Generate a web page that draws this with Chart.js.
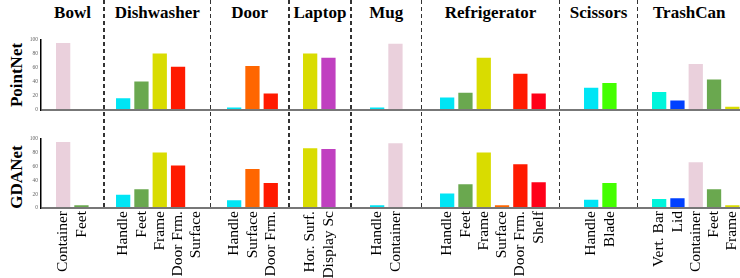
<!DOCTYPE html>
<html>
<head>
<meta charset="utf-8">
<script src="https://cdn.jsdelivr.net/npm/chart.js@4.4.0/dist/chart.umd.min.js"></script>
<style>
  body { margin:0; width:740px; height:278px; overflow:hidden; background:#fff; position:relative; font-family:'Liberation Serif', serif; }
  canvas { position:absolute; }
  .title { position:absolute; top:2px; line-height:22px; font-weight:bold; font-size:17px; text-align:center; white-space:nowrap; }
  .rowname { position:absolute; font-weight:bold; font-size:17px; white-space:nowrap; transform:translate(-50%,-50%) rotate(-90deg); }
  .sep { position:absolute; top:0; width:1.5px; height:210px; background:repeating-linear-gradient(to bottom,#333 0 4px,rgba(0,0,0,0) 4px 7px); }
</style>
</head>
<body>
<script>
// categories and their parts
const categories = ['Bowl','Dishwasher','Door','Laptop','Mug','Refrigerator','Scissors','TrashCan'];
const partLabels = [
  ['Container','Feet'],
  ['Handle','Feet','Frame','Door Frm.','Surface'],
  ['Handle','Surface','Door Frm.'],
  ['Hor. Surf.','Display Sc'],
  ['Handle','Container'],
  ['Handle','Feet','Frame','Surface','Door Frm.','Shelf'],
  ['Handle','Blade'],
  ['Vert. Bar','Lid','Container','Feet','Frame']
];
// per part scores (0 = no bar)
const pointNetValues = [
  [95,0],
  [16,40,80,61,0],
  [3,62,23],
  [80,74],
  [3,94],
  [17,24,74,0,51,23],
  [31,38],
  [25,13,65,43,4]
];
const gdaNetValues = [
  [95,4],
  [19,27,80,61,0],
  [11,56,36],
  [86,85],
  [4,93],
  [21,34,80,4,63,37],
  [12,36],
  [13,14,66,27,4]
];
const partColors = [
  ['#ead0dc','#6aa84f'],
  ['#00e5f5','#6aa84f','#d9dc00','#ff1a00','#ff6600'],
  ['#00e5f5','#ff6600','#ff1a00'],
  ['#d9dc00','#c040c0'],
  ['#00e5f5','#ead0dc'],
  ['#00e5f5','#6aa84f','#d9dc00','#ff6600','#ff1a00','#ff0018'],
  ['#00e5f5','#44ff00'],
  ['#00f5dc','#0040ff','#ead0dc','#6aa84f','#d9dc00']
];

// layout
const sepX = [104, 210.5, 289, 351, 421.5, 559.5, 637.5];
const groupEdges = [41].concat(sepX, [741]);
const firstBarX = [63, 123, 234.5, 310, 377, 447.5, 591, 659];
const pitch = 18.3;
const margin = 20;
const serif = 'Liberation Serif';

const rows = [
  { name:'PointNet', values:pointNetValues, top:0, height:120, padTop:39.5, padBottom:10.5, labels:false, nameY:74.5 },
  { name:'GDANet', values:gdaNetValues, top:120, height:158, padTop:18.5, padBottom:70, labels:true, nameY:176.5 }
];

function addCanvas(left, top, w, h, z) {
  var c = document.createElement('canvas');
  c.width = w; c.height = h;
  c.style.left = left + 'px'; c.style.top = top + 'px';
  c.style.width = w + 'px'; c.style.height = h + 'px';
  c.style.zIndex = z;
  document.body.appendChild(c);
  return c;
}

categories.forEach(function(name, g) {
  var d = document.createElement('div');
  d.className = 'title';
  d.style.left = groupEdges[g] + 'px';
  d.style.width = (groupEdges[g+1] - groupEdges[g]) + 'px';
  d.textContent = name;
  document.body.appendChild(d);
});

sepX.forEach(function(x) {
  var s = document.createElement('div');
  s.className = 'sep';
  s.style.left = (x - 0.75) + 'px';
  document.body.appendChild(s);
});

rows.forEach(function(row) {
  var rn = document.createElement('div');
  rn.className = 'rowname';
  rn.style.left = '17px';
  rn.style.top = row.nameY + 'px';
  rn.textContent = row.name;
  document.body.appendChild(rn);

  // one small chart per category
  categories.forEach(function(name, g) {
    var n = partLabels[g].length;
    var w = Math.round(n * pitch + 2 * margin);
    var left = firstBarX[g] - pitch / 2 - margin;
    var cv = addCanvas(left, row.top, w, row.height, 1);
    var padR = w - margin - n * pitch;
    new Chart(cv.getContext('2d'), {
      type: 'bar',
      data: {
        labels: partLabels[g],
        datasets: [{
          data: row.values[g],
          backgroundColor: partColors[g],
          borderWidth: 0,
          barPercentage: 0.78,
          categoryPercentage: 1
        }]
      },
      options: {
        responsive: false,
        animation: false,
        layout: { padding: { left: margin, right: padR, top: row.padTop, bottom: row.labels ? 0 : row.padBottom } },
        plugins: { legend: { display: false }, tooltip: { enabled: false } },
        scales: {
          x: {
            display: row.labels,
            grid: { display: false, drawTicks: false },
            border: { display: false },
            ticks: { autoSkip: false, minRotation: 90, maxRotation: 90, padding: 3, color: '#000',
                     font: { family: serif, size: 15.5 } },
            afterFit: function(s) { if (row.labels) s.height = 70; }
          },
          y: { display: false, min: 0, max: 100 }
        }
      }
    });
  });

  // shared y axis and baseline for the row
  var bg = addCanvas(0, row.top, 740, row.height, 2);
  new Chart(bg.getContext('2d'), {
    type: 'bar',
    data: { labels: [], datasets: [] },
    options: {
      responsive: false,
      animation: false,
      layout: { padding: { left: 0, right: 0, top: row.padTop, bottom: row.padBottom } },
      plugins: { legend: { display: false }, tooltip: { enabled: false } },
      scales: {
        x: { display: false },
        y: {
          min: 0, max: 100,
          ticks: { stepSize: 20, padding: 3, color: '#666', font: { family: serif, size: 5.5 } },
          grid: { drawTicks: false, lineWidth: 2,
                  color: function(c) { return c.tick && c.tick.value === 0 ? '#777' : 'rgba(0,0,0,0)'; } },
          border: { color: '#000', width: 1.5 },
          afterFit: function(s) { s.width = 41; }
        }
      }
    }
  });
});
</script>
</body>
</html>
